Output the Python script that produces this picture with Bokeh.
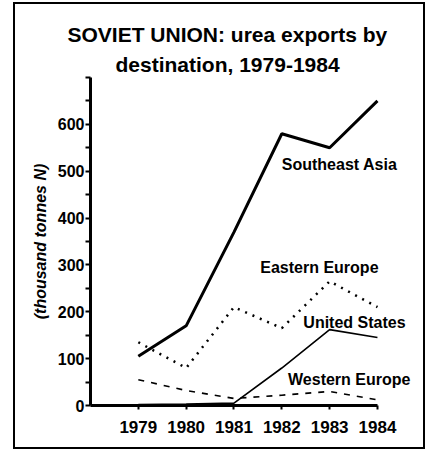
from bokeh.plotting import figure
from bokeh.models import Range1d, FixedTicker, Title, ColumnDataSource
from bokeh.core.properties import value
from bokeh.embed import file_html
from bokeh.resources import INLINE

years = [1979, 1980, 1981, 1982, 1983, 1984]
southeast_asia = [105, 170, 370, 580, 550, 650]
eastern_europe = [135, 80, 210, 165, 265, 210]
united_states = [2, 3, 5, 80, 162, 145]
western_europe = [55, 32, 15, 22, 30, 12]

series_names = ["Southeast Asia", "Eastern Europe", "United States", "Western Europe"]
label_x = [1982.0, 1981.55, 1982.45, 1982.13]
label_y = [514, 294, 177, 55]

y_major = [0, 100, 200, 300, 400, 500, 600]
y_minor = [50, 150, 250, 350, 450, 550, 650, 700]

FONT = "Liberation Sans"

p = figure(width=412, height=447, output_backend="svg", toolbar_location=None,
           x_range=Range1d(1978, 1984.9), y_range=Range1d(0, 700),
           min_border_left=75, min_border_top=73, min_border_bottom=46, min_border_right=7)
p.styles = {"border": "2px solid black", "margin-left": "13px", "margin-top": "2px"}
p.outline_line_color = None
p.xgrid.visible = False
p.ygrid.visible = False

p.add_layout(Title(text="destination, 1979-1984", align="left", offset=25,
                   text_font=FONT, text_font_size="21px", text_font_style="bold",
                   text_color="black", standoff=3), "above")
p.add_layout(Title(text="SOVIET UNION: urea exports by", align="left", offset=-23,
                   text_font=FONT, text_font_size="21px", text_font_style="bold",
                   text_color="black", standoff=7), "above")

p.line(years, southeast_asia, line_color="black", line_width=3)
p.line(years, eastern_europe, line_color="black", line_width=2.5, line_dash="2 6")
p.line(years, united_states, line_color="black", line_width=1.6)
p.line(years, western_europe, line_color="black", line_width=1.6, line_dash="6 7")

src = ColumnDataSource(dict(x=label_x, y=label_y, t=series_names))
p.text("x", "y", text="t", source=src, text_font=value(FONT), text_font_size="16px",
       text_font_style="bold", text_align="left", text_baseline="middle", text_color="black")

xa = p.xaxis[0]
xa.ticker = FixedTicker(ticks=years)
xa.bounds = (1978, 1984)
xa.axis_line_width = 3
xa.major_tick_line_width = 2
xa.major_tick_out = 4
xa.major_tick_in = 0
xa.minor_tick_line_color = None
xa.major_label_standoff = 11
xa.major_label_text_font = FONT
xa.major_label_text_font_size = "17px"
xa.major_label_text_font_style = "bold"
xa.major_label_text_color = "black"

ya = p.yaxis[0]
ya.ticker = FixedTicker(ticks=y_major, minor_ticks=y_minor)
ya.bounds = (0, 700)
ya.axis_line_width = 3
ya.major_tick_line_width = 2
ya.minor_tick_line_width = 2
ya.major_tick_out = 5
ya.major_tick_in = 0
ya.minor_tick_out = 5
ya.minor_tick_in = 0
ya.major_label_standoff = 1
ya.major_label_text_font = FONT
ya.major_label_text_font_size = "16px"
ya.major_label_text_font_style = "bold"
ya.major_label_text_color = "black"
ya.axis_label = "(thousand tonnes N)"
ya.axis_label_text_font = FONT
ya.axis_label_text_font_size = "16px"
ya.axis_label_text_font_style = "bold italic"
ya.axis_label_text_color = "black"
ya.axis_label_standoff = 6

open("out.html", "w").write(file_html(p, INLINE))
